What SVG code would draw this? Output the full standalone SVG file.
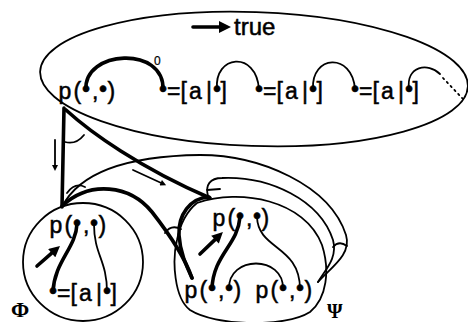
<svg xmlns="http://www.w3.org/2000/svg" width="468" height="322" viewBox="0 0 468 322">
<style>
.t{font-family:"Liberation Sans",Arial,sans-serif;font-size:23px;fill:#000;stroke:#000;stroke-width:0.5}
.g{font-family:"Liberation Serif","Times New Roman",serif;font-weight:bold;fill:#000}
.thin{fill:none;stroke:#000;stroke-width:1.8;stroke-linecap:round}
.thick{fill:none;stroke:#000;stroke-width:3.6;stroke-linecap:round}
.outl{fill:none;stroke:#000;stroke-width:1.8}
</style>
<defs>
<marker id="big" viewBox="0 0 10 10" refX="0" refY="5" markerWidth="12" markerHeight="11" markerUnits="userSpaceOnUse" orient="auto"><path d="M0,0 L10,5 L0,10 Z"/></marker>
<marker id="big2" viewBox="0 0 10 10" refX="0" refY="5" markerWidth="14" markerHeight="12" markerUnits="userSpaceOnUse" orient="auto"><path d="M0,0 L10,5 L0,10 Z"/></marker>
<marker id="sm" viewBox="0 0 10 10" refX="0" refY="5" markerWidth="8" markerHeight="6" markerUnits="userSpaceOnUse" orient="auto"><path d="M0,0 L10,5 L0,10 Z"/></marker>
</defs>

<g id="goal">
<ellipse class="outl" cx="254" cy="79" rx="214" ry="67" transform="rotate(2 254 79)"/>
<path class="thick" d="M193,27 L219,27" marker-end="url(#big2)"/>
<text class="t" x="234" y="35" style="font-size:24px">true</text>
<text class="t" x="58.4 73.6 82 92 99 107.5" y="99" dy="0 0 -2 2 -2 2">p(•,•)</text>
<text class="t" x="154" y="65" style="font-size:12px;stroke-width:0.2">0</text>
<text class="t" x="159 167 180.5 189 206 213 220.5" y="99" dy="-2 2 0 0 0 -2 2">•=[a|•]</text>
<text class="t" x="255 263 276.5 285 302 309 316.5" y="99" dy="-2 2 0 0 0 -2 2">•=[a|•]</text>
<text class="t" x="351 359 372.5 381 398 405 412.5" y="99" dy="-2 2 0 0 0 -2 2">•=[a|•]</text>
<path class="thick" d="M86,90 C83,50 165,45 163,90"/>
<path class="thin" d="M217,89 C214,55 256,50 259,89"/>
<path class="thin" d="M313,89 C311,55 352,52 355,89"/>
<path class="thin" d="M409,89 C406,66 428,62 440,74"/>
<path class="thin" d="M443,78 L463,99" stroke-dasharray="1.5,4"/>
</g>

<g id="phi">
<ellipse class="outl" cx="83" cy="262" rx="60" ry="59"/>
<text class="t" x="49.4 64.6 73 83 90 98.5" y="233" dy="0 0 -2 2 -2 2">p(•,•)</text>
<text class="t" x="49 57 70.5 79 96 103 110.5" y="301" dy="-2 2 0 0 0 -2 2">•=[a|•]</text>
<path class="thick" d="M77,224 C76,248 54,262 53,292"/>
<path class="thin" d="M94,224 C94,255 107,260 107,292"/>
<path class="thick" d="M37,266 L51.7,253.2" marker-end="url(#big)"/>
<text class="g" x="11" y="317" style="font-size:22px">Φ</text>
</g>

<g id="psi">
<path class="outl" d="M197,203 C240,188 305,200 322,245 C330,270 327,298 310,312 C285,328 215,326 190,310 C174,298 172,260 177,240 C180,225 187,211 197,203 Z"/>
<text class="t" x="212.4 227.6 236 246 253 261.5" y="226" dy="0 0 -2 2 -2 2">p(•,•)</text>
<text class="t" x="184.4 199.6 208 218 225 233.5" y="298" dy="0 0 -2 2 -2 2">p(•,•)</text>
<text class="t" x="255.4 270.6 279 289 296 304.5" y="298" dy="0 0 -2 2 -2 2">p(•,•)</text>
<path class="thick" d="M240,217 C238,245 213,255 212,289"/>
<path class="thin" d="M229,289 C228,255 284,255 283,289"/>
<path class="thin" d="M257,217 C258,250 300,245 300,289"/>
<path class="thick" d="M200,254 L215,239.6" marker-end="url(#big)"/>
<text class="g" x="327" y="318" style="font-size:20px">Ψ</text>
</g>

<g id="connectors">
<path class="thick" d="M64,108 L62,207"/>
<path class="thick" d="M66,110 C90,132 140,168 210,198"/>
<path class="thin" d="M207,190 L220,189"/>
<path class="thin" d="M62,207 C78,175 120,156 200,155 C260,155 330,185 346,235 C352,255 330,268 318,282"/>
<path class="thin" d="M208,196 C205,185 210,178 222,178 C270,176 320,200 333,240 C338,258 325,270 318,282"/>
<path class="thick" d="M62,206 C90,180 130,185 152,212 C170,235 185,258 192,278"/>
<path class="thick" d="M209,197 C190,198 178,215 179,235 C180,252 186,265 192,278"/>
<path class="thin" d="M65,142 Q76,145 84,135"/>
<path class="thin" d="M67,193 Q75,182 85,187"/>
<path class="thin" d="M165,233 Q171,224 181,229"/>
<path class="thin" d="M333,247 Q339,240 347,246"/>
<path class="thin" d="M55,140 L55,165" marker-end="url(#sm)"/>
<path class="thin" d="M133,170 L160.7,182.7" marker-end="url(#sm)"/>
</g>
</svg>
